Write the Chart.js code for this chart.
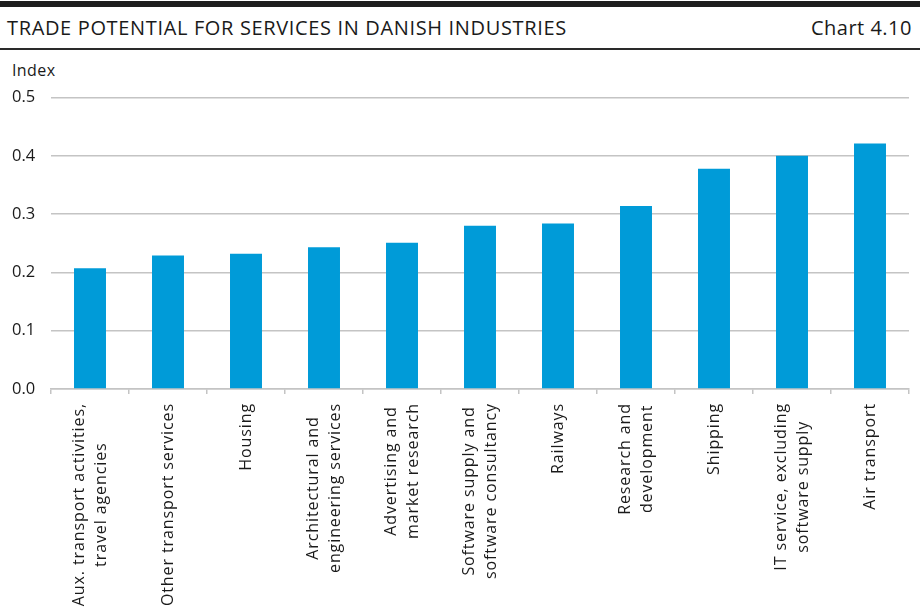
<!DOCTYPE html>
<html>
<head>
<meta charset="utf-8">
<script src="https://cdn.jsdelivr.net/npm/chart.js@4"></script>
<style>
    html, body { margin: 0; padding: 0; background: #fff; }
    body { width: 920px; height: 613px; position: relative; overflow: hidden; font-family: 'Open Sans', sans-serif; color: #1a1a1a; }
    .topbar { position: absolute; left: 0; top: 1px; width: 920px; height: 6px; background: #1e1e1e; }
    .rule { position: absolute; left: 0; top: 48px; width: 920px; height: 2px; background: #2a2a2a; }
    .title { position: absolute; left: 7px; top: 14px; font-size: 20px; letter-spacing: 0.65px; }
    .chartno { position: absolute; right: 8px; top: 14px; font-size: 20px; letter-spacing: 0.5px; }
    .unit { position: absolute; left: 12px; top: 59px; font-size: 16px; letter-spacing: 0.4px; }
    .wrap { position: absolute; left: 0; top: 0; width: 920px; height: 613px; }
</style>
</head>
<body>
<div class="topbar"></div>
<div class="title">TRADE POTENTIAL FOR SERVICES IN DANISH INDUSTRIES</div>
<div class="chartno">Chart 4.10</div>
<div class="rule"></div>
<div class="unit">Index</div>
<div class="wrap"><canvas id="tradeChart" width="920" height="613"></canvas></div>
<script>
const industries = [
    ['Aux. transport activities,', 'travel agencies'],
    ['Other transport services'],
    ['Housing'],
    ['Architectural and', 'engineering services'],
    ['Advertising and', 'market research'],
    ['Software supply and', 'software consultancy'],
    ['Railways'],
    ['Research and', 'development'],
    ['Shipping'],
    ['IT service, excluding', 'software supply'],
    ['Air transport']
];
const tradeIndex = [0.207, 0.229, 0.232, 0.243, 0.251, 0.280, 0.284, 0.314, 0.378, 0.400, 0.421];
const yTicks = [0, 0.1, 0.2, 0.3, 0.4, 0.5];

const gridGrey = '#c4c4c4';
const labelFont = "16px 'Open Sans', sans-serif";

// rotated, centre-justified category names under the axis
const categoryLabels = {
    id: 'categoryLabels',
    afterDraw(chart) {
        const ctx = chart.ctx;
        const xScale = chart.scales.x;
        const top = xScale.top + 14;
        const lineHeight = 22;
        ctx.save();
        ctx.font = labelFont;
        ctx.letterSpacing = '0.9px';
        ctx.fillStyle = '#1a1a1a';
        ctx.textAlign = 'center';
        ctx.textBaseline = 'middle';
        industries.forEach(function(lines, i) {
            const cx = xScale.getPixelForTick(i);
            const widest = Math.max.apply(null, lines.map(function(l) { return ctx.measureText(l).width; }));
            ctx.save();
            ctx.translate(cx, top);
            ctx.rotate(-Math.PI / 2);
            lines.forEach(function(line, j) {
                ctx.fillText(line, -widest / 2, (j - (lines.length - 1) / 2) * lineHeight);
            });
            ctx.restore();
        });
        ctx.restore();
    }
};

new Chart(document.getElementById('tradeChart'), {
    type: 'bar',
    data: {
        labels: industries.map(function(l) { return l.join(' '); }),
        datasets: [{
            data: tradeIndex,
            backgroundColor: '#009bd8',
            barPercentage: 0.41,
            categoryPercentage: 1
        }]
    },
    options: {
        responsive: false,
        animation: false,
        devicePixelRatio: 1,
        layout: { padding: { left: 12, right: 11, top: 97.5, bottom: 0 } },
        plugins: { legend: { display: false }, tooltip: { enabled: false } },
        scales: {
            x: {
                grid: { display: true, drawOnChartArea: false, drawTicks: true, tickLength: 5, color: gridGrey, lineWidth: 1.5 },
                border: { display: true, color: gridGrey, width: 1.5 },
                ticks: { display: false },
                afterFit: function(scale) { scale.height = 224; }
            },
            y: {
                min: 0,
                max: 0.5,
                afterBuildTicks: function(scale) { scale.ticks = yTicks.map(function(v) { return { value: v }; }); },
                grid: { color: gridGrey, lineWidth: 1.5, drawTicks: false },
                border: { display: false },
                ticks: {
                    crossAlign: 'far',
                    color: '#1a1a1a',
                    font: { family: "'Open Sans', sans-serif", size: 16.5 },
                    callback: function(v) { return v.toFixed(1); }
                },
                afterFit: function(scale) { scale.width = 39; }
            }
        }
    },
    plugins: [categoryLabels]
});
</script>
</body>
</html>
